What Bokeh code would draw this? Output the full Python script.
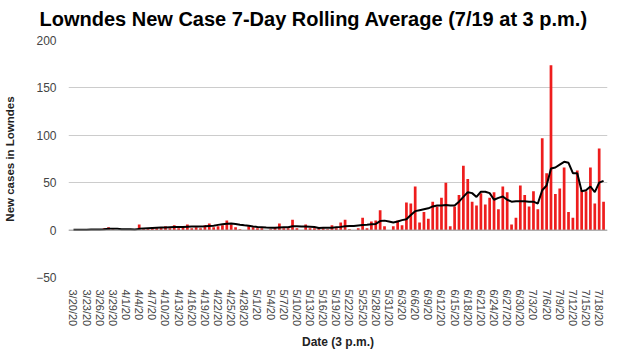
from bokeh.plotting import figure
from bokeh.models import FixedTicker, Span, ColumnDataSource, Title
from bokeh.embed import file_html
from bokeh.resources import INLINE

# Daily new cases, 3/20/20 .. 7/19/20 (122 days)
new_cases = [
    0, 0, 0, 0, 1, 0, 0, 2, 3, 1, 0, 0,            # 3/20 - 3/31
    1, 0, 1, 6, 2, 2, 3, 2, 3, 4, 2, 5, 2, 4, 6, 2, 3, 2, 5, 7, 3, 4, 5, 10,
    6, 3, 1, 0, 4, 3,                              # 4/1 - 4/30
    2, 2, 0, 1, 3, 7, 2, 2, 11, 2, 0, 6, 2, 2, 2, 2, 1, 5, 2, 8, 11, 1, 0, 2,
    13, 2, 9, 10, 21, 4, 0,                        # 5/1 - 5/31
    4, 10, 5, 29, 28, 46, 8, 19, 12, 30, 25, 34, 50, 4, 25, 37, 68, 54, 30,
    26, 39, 27, 34, 40, 22, 46, 40, 6, 13, 47,     # 6/1 - 6/30
    37, 25, 41, 22, 97, 60, 174, 38, 44, 66, 19, 13, 63, 42, 41, 66, 28, 86,
    30,                                            # 7/1 - 7/19
]

# 7-day rolling average line
rolling_avg = [
    0.3, 0.3, 0.3, 0.4, 0.6, 0.6, 0.6, 0.9, 1.3, 1.3, 1.3, 1.0,
    1.0, 0.9, 0.7, 1.3, 1.7, 2.0, 2.3, 2.6, 2.7, 2.8, 3.0, 3.2, 3.3, 3.4,
    3.6, 3.7, 3.8, 3.9, 4.0, 4.3, 4.6, 5.5, 6.2, 6.8, 6.9, 6.5, 5.7, 5.0,
    4.5, 3.8,
    3.3, 3.0, 2.7, 2.5, 2.6, 2.8, 2.9, 3.0, 4.0, 4.0, 3.8, 3.9, 3.6, 3.3,
    2.2, 2.4, 2.5, 2.6, 3.0, 3.4, 4.0, 4.2, 4.3, 4.8, 5.3, 5.6, 6.2, 6.5,
    9.5, 10.0, 9.0,
    8.0, 9.0, 10.5, 11.5, 16.0, 20.0, 21.0, 22.0, 23.0, 25.0, 26.0, 26.0,
    26.5, 26.0, 26.0, 30.0, 35.0, 40.0, 39.0, 35.0, 40.5, 40.5, 39.0, 32.0,
    34.0, 35.5, 32.0, 30.0, 30.5, 30.5,
    30.5, 30.0, 30.0, 28.0, 42.0, 47.0, 65.0, 66.0, 69.0, 72.0, 71.0, 60.0,
    60.0, 41.0, 42.0, 46.0, 40.0, 50.0, 52.0,
]

tick_labels = [
    "3/20/20", "3/23/20", "3/26/20", "3/29/20", "4/1/20", "4/4/20", "4/7/20",
    "4/10/20", "4/13/20", "4/16/20", "4/19/20", "4/22/20", "4/25/20",
    "4/28/20", "5/1/20", "5/4/20", "5/7/20", "5/10/20", "5/13/20", "5/16/20",
    "5/19/20", "5/22/20", "5/25/20", "5/28/20", "5/31/20", "6/3/20", "6/6/20",
    "6/9/20", "6/12/20", "6/15/20", "6/18/20", "6/21/20", "6/24/20",
    "6/27/20", "6/30/20", "7/3/20", "7/6/20", "7/9/20", "7/12/20", "7/15/20",
    "7/18/20",
]
y_ticks = [-50, 0, 50, 100, 150, 200]

title_text = "Lowndes New Case 7-Day Rolling Average (7/19 at 3 p.m.)"
x_title = "Date (3 p.m.)"
y_title = "New cases in Lowndes"

days = list(range(len(new_cases)))
tick_pos = [3 * i for i in range(len(tick_labels))]

src = ColumnDataSource(dict(day=days, cases=new_cases, avg=rolling_avg))

FONT = "Liberation Sans"

p = figure(width=621, height=352, output_backend="svg", toolbar_location=None,
           x_range=(-1.14, 121.9), y_range=(-50, 200),
           min_border_left=68, min_border_right=14, min_border_top=40,
           min_border_bottom=74, title=title_text)

p.title.text_font = FONT
p.title.text_font_size = "20px"
p.title.text_font_style = "bold"
p.title.text_color = "#000000"
p.title.align = "left"
p.title.offset = -29
p.title.standoff = 0

# empty spacer between the title and the plot area
p.add_layout(Title(text=" ", text_font_size="1px", standoff=8), "above")

p.outline_line_color = None
p.background_fill_color = "white"
p.border_fill_color = "white"

p.xgrid.grid_line_color = None
p.ygrid.grid_line_color = "#cccccc"
p.ygrid.grid_line_width = 1

p.vbar(x="day", top="cases", width=0.62, bottom=0, source=src,
       fill_color="#ee1d1d", line_color=None)

p.add_layout(Span(location=0, dimension="width", line_color="#a0a0a0",
                  line_width=1))

p.line(x="day", y="avg", source=src, line_color="#000000", line_width=2)

p.xaxis.ticker = FixedTicker(ticks=tick_pos)
p.xaxis.major_label_overrides = {t: l for t, l in zip(tick_pos, tick_labels)}
p.xaxis.major_label_orientation = "vertical"
p.yaxis.ticker = FixedTicker(ticks=y_ticks)

for ax in (p.xaxis, p.yaxis):
    ax.axis_line_color = None
    ax.major_tick_line_color = None
    ax.minor_tick_line_color = None
    ax.major_label_text_font = FONT
    ax.major_label_text_color = "#444444"
    ax.axis_label_text_font = FONT
    ax.axis_label_text_font_style = "bold"
    ax.axis_label_text_color = "#222222"

p.xaxis.major_label_text_font_size = "11px"
p.yaxis.major_label_text_font_size = "12px"
p.xaxis.major_label_standoff = 6
p.yaxis.major_label_standoff = 6
p.xaxis.axis_label = x_title
p.yaxis.axis_label = y_title
p.xaxis.axis_label_text_font_size = "12px"
p.yaxis.axis_label_text_font_size = "11.5px"
p.xaxis.axis_label_standoff = 6
p.yaxis.axis_label_standoff = 17

open("out.html", "w").write(file_html(p, INLINE))
